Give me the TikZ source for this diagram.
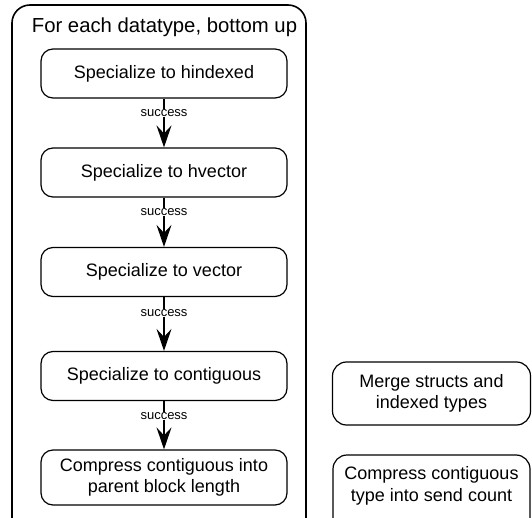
\documentclass[tikz,border=0pt]{standalone}
\usepackage{fontspec}
\setmainfont{Liberation Sans}
\usetikzlibrary{arrows.meta}
\begin{document}
\begin{tikzpicture}[x=1pt,y=-1pt,
  stepbox/.style={draw=black, line width=1.2pt, rounded corners=12pt, fill=white,
    minimum width=246pt, minimum height=49pt, align=center, font=\fontsize{18}{21.5}\selectfont, inner sep=0pt},
  sidebox/.style={draw=black, line width=1.2pt, rounded corners=14pt, fill=white,
    minimum width=198pt, minimum height=63pt, align=center, font=\fontsize{18}{21.5}\selectfont, inner sep=0pt},
  flow/.style={draw=black, line width=1.3pt, -{Stealth[length=22pt, width=15pt, inset=8pt]}},
  lab/.style={fill=white, font=\fontsize{13}{14}\selectfont, inner sep=0.5pt}
]
\useasboundingbox (0,0) rectangle (532,518);
\clip (0,0) rectangle (532,518);
% outer container
\draw[line width=1.6pt, rounded corners=18pt] (12,540) -- (12,5) -- (306,5) -- (306,540);
\node[font=\fontsize{20.3}{24}\selectfont, anchor=base] (title) at (164.5,33) {For each datatype, bottom up};
\node[stepbox] (b1) at (164,73.5) {Specialize to hindexed};
\node[stepbox] (b2) at (164,172.5) {Specialize to hvector};
\node[stepbox] (b3) at (164,272) {Specialize to vector};
\node[stepbox] (b4) at (164,376) {Specialize to contiguous};
\node[stepbox, minimum height=55pt] (b5) at (164,477.5) {Compress contiguous into\\parent block length};
\draw[flow] (b1) -- node[lab, pos=0.3] {success} (b2);
\draw[flow] (b2) -- node[lab, pos=0.3] {success} (b3);
\draw[flow] (b3) -- node[lab, pos=0.3] {success} (b4);
\draw[flow] (b4) -- node[lab, pos=0.3] {success} (b5);
\node[sidebox] (m) at (431.5,393.5) {Merge structs and\\indexed types};
\draw[line width=1.2pt, rounded corners=14pt] (333,540) -- (333,455) -- (530,455) -- (530,540);
\node[align=center, font=\fontsize{18}{21.5}\selectfont] (c) at (431.5,486) {Compress contiguous\\type into send count};
\end{tikzpicture}
\end{document}
